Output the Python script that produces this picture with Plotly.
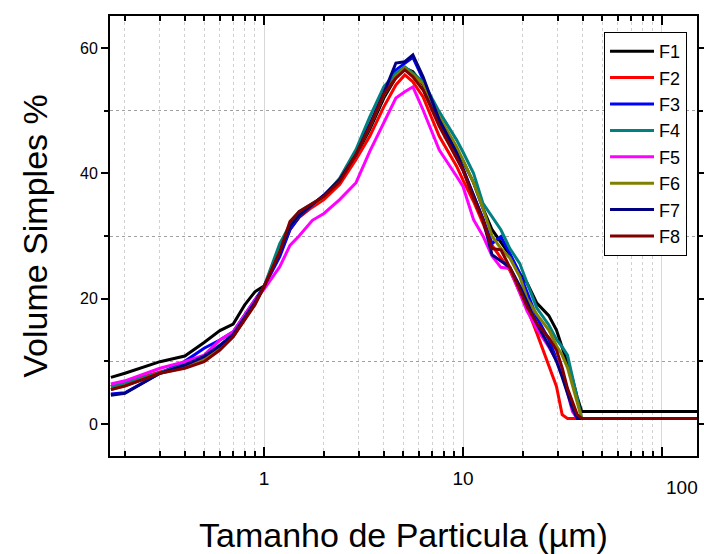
import plotly.graph_objects as go

# Particle size (µm)
size_um = [0.17, 0.2, 0.3, 0.4, 0.5, 0.6, 0.7, 0.8, 0.9, 1.0,
           1.2, 1.35, 1.5, 1.75, 2.0, 2.4, 2.9, 3.4, 4.0, 4.6,
           5.1, 5.6, 6.3, 7.6, 9.3, 10.0, 11.3, 12.6, 14.0, 15.5,
           17.2, 19.3, 21.0, 23.5, 27.0, 29.5, 31.5, 33.5, 35.5, 37.5,
           39.5, 45.0, 150.0]

F1 = [7.45, 8.1, 9.95, 10.85, 13.0, 14.9, 15.95, 19.0, 21.1, 22.0,
      27.3, 31.2, 33.0, 35.0, 36.3, 38.8, 42.8, 47.0, 52.0, 55.3,
      56.8, 56.2, 54.1, 48.3, 43.5, 42.0, 38.5, 34.4, 31.0, 29.0,
      27.0, 24.0, 22.5, 19.3, 17.3, 15.0, 12.2, 9.6, 7.2, 4.3,
      2.0, 2.0, 2.0]
F2 = [6.0, 6.7, 8.3, 9.3, 10.5, 12.0, 14.0, 16.8, 19.3, 21.9,
      27.0, 31.0, 33.0, 34.6, 35.8, 38.2, 42.2, 45.9, 50.6, 54.1,
      55.7, 54.6, 52.2, 45.9, 41.1, 38.9, 35.5, 32.0, 28.5, 26.5,
      24.5, 21.0, 18.5, 14.5, 9.1, 6.0, 1.5, 0.9, 0.9, 0.9,
      0.9, 0.9, 0.9]
F3 = [4.8, 5.0, 8.1, 10.0, 12.1, 13.4, 14.7, 17.3, 19.8, 21.9,
      26.7, 31.0, 33.0, 35.0, 36.5, 39.0, 43.0, 47.5, 52.5, 56.5,
      57.5, 58.5, 55.0, 48.0, 42.5, 40.5, 36.5, 32.8, 28.8, 29.9,
      27.2, 24.0, 21.0, 17.0, 13.5, 10.5, 8.0, 5.5, 2.5, 0.9,
      0.9, 0.9, 0.9]
F4 = [6.0, 6.5, 8.2, 9.5, 10.8, 12.6, 14.3, 17.0, 19.5, 21.9,
      28.8, 31.8, 33.9, 35.2, 36.3, 39.2, 43.8, 49.0, 53.8, 56.0,
      57.0, 56.0, 54.6, 49.8, 45.3, 43.4, 40.0, 35.2, 33.0, 31.0,
      28.0, 25.6, 22.5, 18.5, 15.8, 13.5, 12.3, 11.0, 7.5, 4.0,
      0.9, 0.9, 0.9]
F5 = [6.4, 6.9, 8.9, 9.95, 11.0, 13.4, 14.7, 17.4, 19.8, 21.5,
      25.1, 28.5, 30.0, 32.5, 33.6, 35.8, 38.5, 43.5, 48.0, 52.0,
      53.0, 53.8, 50.1, 43.7, 39.5, 37.9, 32.6, 30.0, 26.8, 25.0,
      24.8, 21.0, 18.0, 15.2, 12.3, 10.2, 8.0, 5.0, 2.0, 0.9,
      0.9, 0.9, 0.9]
F6 = [5.5, 6.1, 8.1, 9.0, 10.2, 12.0, 14.0, 16.7, 19.2, 21.9,
      27.5, 31.5, 33.3, 35.0, 36.3, 39.0, 43.0, 47.5, 52.5, 55.5,
      56.8, 55.7, 54.3, 49.0, 44.2, 42.1, 38.5, 34.4, 30.0, 28.0,
      26.5, 23.5, 20.0, 17.5, 15.0, 12.5, 11.0, 9.0, 6.0, 3.5,
      0.9, 0.9, 0.9]
F7 = [4.6, 4.9, 8.1, 9.4, 10.8, 12.5, 14.3, 17.0, 19.4, 21.9,
      27.3, 31.5, 33.3, 35.0, 36.5, 39.0, 43.0, 47.8, 52.8, 57.6,
      57.8, 58.9, 55.4, 48.5, 43.2, 40.8, 36.5, 32.6, 27.0, 26.0,
      25.0, 22.0, 19.5, 16.0, 12.5, 10.0, 7.5, 5.0, 2.5, 0.9,
      0.9, 0.9, 0.9]
F8 = [5.5, 6.07, 8.1, 8.9, 9.95, 11.8, 13.9, 16.6, 19.0, 21.9,
      27.5, 32.3, 33.9, 35.2, 36.3, 38.7, 43.0, 47.5, 52.6, 55.2,
      56.5, 55.4, 53.3, 47.5, 42.5, 40.5, 36.0, 32.5, 28.0, 27.8,
      25.0, 21.5, 18.7, 16.0, 13.8, 11.8, 9.0, 5.7, 3.5, 1.5,
      0.9, 0.9, 0.9]

names = ["F1", "F2", "F3", "F4", "F5", "F6", "F7", "F8"]
series = [F1, F2, F3, F4, F5, F6, F7, F8]
colors = ["#000000", "#FF0000", "#0000FF", "#008080",
          "#FF00FF", "#808000", "#000080", "#800000"]

x_major = [1, 10, 100]
x_minor = [0.2, 0.3, 0.4, 0.5, 0.6, 0.7, 0.8, 0.9,
           2, 3, 4, 5, 6, 7, 8, 9,
           20, 30, 40, 50, 60, 70, 80, 90]
y_major = [0, 20, 40, 60]
y_minor = [10, 30, 50]

FONT = "Liberation Sans, Arial, sans-serif"

fig = go.Figure()
for n, s, c in zip(names, series, colors):
    fig.add_trace(go.Scatter(x=size_um, y=s, mode="lines", name=n,
                             line=dict(color=c, width=3)))

fig.update_layout(
    width=704, height=554,
    margin=dict(l=110, r=7, t=16, b=98, autoexpand=False),
    paper_bgcolor="white", plot_bgcolor="white",
    font=dict(family=FONT, color="black"),
    showlegend=True,
    legend=dict(x=0.8416, y=0.9636, xanchor="left", yanchor="top",
                bgcolor="white", bordercolor="black", borderwidth=1,
                font=dict(size=18, family=FONT), tracegroupgap=0,
                itemwidth=44),
)

fig.update_xaxes(
    type="log", automargin=False,
    range=[-0.774, 2.176],
    tickmode="array", tickvals=x_major, ticktext=["1", "10", ""],
    ticks="inside", ticklen=9, tickwidth=2, tickcolor="black",
    tickfont=dict(size=19, family=FONT),
    ticklabelstandoff=4,
    showline=True, linewidth=2, linecolor="black", mirror="ticks",
    showgrid=True, gridcolor="#d8d8d8", gridwidth=1,
    zeroline=False,
    minor=dict(tickmode="array", tickvals=x_minor, ticks="inside",
               ticklen=5, tickwidth=1.5, tickcolor="black",
               showgrid=True, gridcolor="#d0d0d0", griddash="dot", gridwidth=1),
    title=dict(text="Tamanho de Particula (µm)", font=dict(size=34, family=FONT),
               standoff=36),
)

fig.update_yaxes(
    automargin=False,
    range=[-5.1, 65.1],
    tickmode="array", tickvals=y_major,
    ticks="outside", ticklen=7, tickwidth=2, tickcolor="black",
    tickfont=dict(size=16, family=FONT),
    showline=True, linewidth=2, linecolor="black", mirror="ticks",
    showgrid=False, zeroline=False,
    minor=dict(tickmode="array", tickvals=y_minor, ticks="outside",
               ticklen=4, tickwidth=1.5, tickcolor="black",
               showgrid=True, gridcolor="#a0a0a0", griddash="dot", gridwidth=1),
    title=dict(text="Volume Simples %", font=dict(size=34, family=FONT),
               standoff=22),
)

fig.add_annotation(text="100", x=0.9744, y=-0.0705, xref="paper", yref="paper",
                   xanchor="center", yanchor="middle", showarrow=False,
                   font=dict(size=19, family=FONT, color="black"))

fig.write_html("out.html")
